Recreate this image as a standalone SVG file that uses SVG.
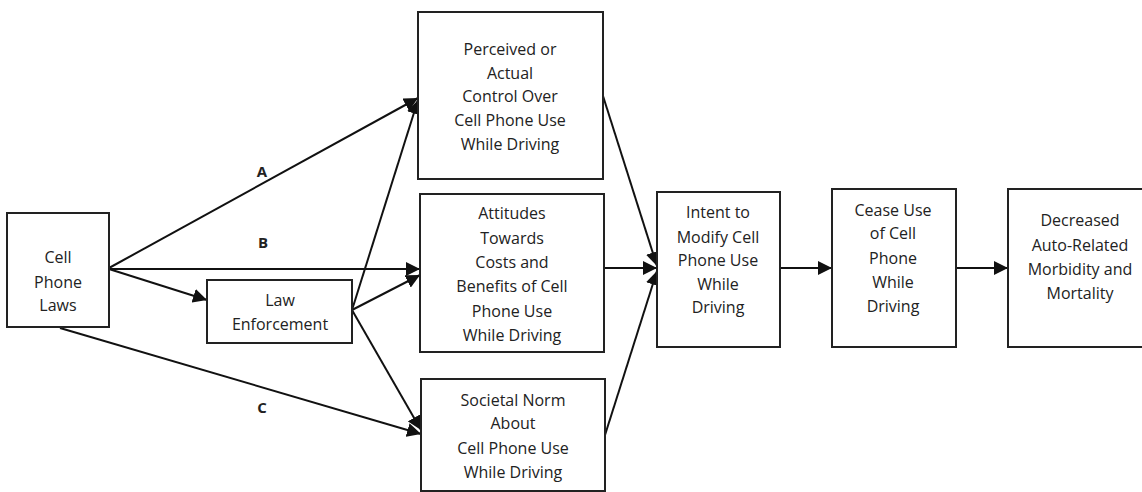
<svg xmlns="http://www.w3.org/2000/svg" width="1142" height="492" viewBox="0 0 1142 492">
  <style>
    .box { fill: #ffffff; stroke: #222222; stroke-width: 2; }
    .lbl { font-family: "Open Sans", "Liberation Sans", sans-serif; font-size: 16px; fill: #222222; text-anchor: middle; }
    .tag { font-family: "Open Sans", "Liberation Sans", sans-serif; font-size: 15px; font-weight: bold; fill: #222222; text-anchor: middle; }
    .edge { fill: none; stroke: #111111; stroke-width: 2; marker-end: url(#arrow); }
  </style>
  <defs>
    <marker id="arrow" viewBox="0 0 10 10" refX="10" refY="5" markerWidth="7" markerHeight="7" markerUnits="strokeWidth" orient="auto">
      <path d="M0,0 L10,5 L0,10 z" fill="#111111"/>
    </marker>
  </defs>
  <rect width="1142" height="492" fill="#ffffff"/>

  <g id="connectors">
    <line class="edge" x1="109" y1="268" x2="418" y2="98"/>
    <line class="edge" x1="109" y1="269" x2="420" y2="269"/>
    <line class="edge" x1="109" y1="269" x2="207" y2="300"/>
    <line class="edge" x1="60" y1="328" x2="421" y2="434"/>
    <line class="edge" x1="352" y1="310" x2="418" y2="100"/>
    <line class="edge" x1="352" y1="310" x2="420" y2="275"/>
    <line class="edge" x1="352" y1="310" x2="421" y2="430"/>
    <line class="edge" x1="603" y1="96" x2="657" y2="266"/>
    <line class="edge" x1="604" y1="268" x2="657" y2="268"/>
    <line class="edge" x1="605" y1="435" x2="657" y2="271"/>
    <line class="edge" x1="780" y1="268" x2="832" y2="268"/>
    <line class="edge" x1="956" y1="268" x2="1008" y2="268"/>
    <text class="tag" x="262" y="177">A</text>
    <text class="tag" x="263" y="248">B</text>
    <text class="tag" x="262" y="413">C</text>
  </g>

  <g id="cell-phone-laws">
    <rect class="box" x="7" y="213" width="102" height="114"/>
    <text class="lbl" x="58" y="263">Cell</text>
    <text class="lbl" x="58" y="288">Phone</text>
    <text class="lbl" x="58" y="311">Laws</text>
  </g>

  <g id="law-enforcement">
    <rect class="box" x="207" y="280" width="145" height="63"/>
    <text class="lbl" x="280" y="306">Law</text>
    <text class="lbl" x="280" y="330">Enforcement</text>
  </g>

  <g id="perceived-control">
    <rect class="box" x="418" y="12" width="185" height="167"/>
    <text class="lbl" x="510" y="55">Perceived or</text>
    <text class="lbl" x="510" y="79">Actual</text>
    <text class="lbl" x="510" y="102">Control Over</text>
    <text class="lbl" x="510" y="126">Cell Phone Use</text>
    <text class="lbl" x="510" y="150">While Driving</text>
  </g>

  <g id="attitudes">
    <rect class="box" x="420" y="194" width="184" height="158"/>
    <text class="lbl" x="512" y="219">Attitudes</text>
    <text class="lbl" x="512" y="244">Towards</text>
    <text class="lbl" x="512" y="268">Costs and</text>
    <text class="lbl" x="512" y="292">Benefits of Cell</text>
    <text class="lbl" x="512" y="317">Phone Use</text>
    <text class="lbl" x="512" y="341">While Driving</text>
  </g>

  <g id="societal-norm">
    <rect class="box" x="421" y="379" width="184" height="112"/>
    <text class="lbl" x="513" y="406">Societal Norm</text>
    <text class="lbl" x="513" y="429">About</text>
    <text class="lbl" x="513" y="454">Cell Phone Use</text>
    <text class="lbl" x="513" y="478">While Driving</text>
  </g>

  <g id="intent">
    <rect class="box" x="657" y="192" width="123" height="155"/>
    <text class="lbl" x="718" y="218">Intent to</text>
    <text class="lbl" x="718" y="243">Modify Cell</text>
    <text class="lbl" x="718" y="266">Phone Use</text>
    <text class="lbl" x="718" y="290">While</text>
    <text class="lbl" x="718" y="313">Driving</text>
  </g>

  <g id="cease-use">
    <rect class="box" x="832" y="189" width="124" height="158"/>
    <text class="lbl" x="893" y="216">Cease Use</text>
    <text class="lbl" x="893" y="239">of Cell</text>
    <text class="lbl" x="893" y="264">Phone</text>
    <text class="lbl" x="893" y="288">While</text>
    <text class="lbl" x="893" y="312">Driving</text>
  </g>

  <g id="decreased-outcomes">
    <rect class="box" x="1008" y="189" width="140" height="158"/>
    <text class="lbl" x="1080" y="226">Decreased</text>
    <text class="lbl" x="1080" y="251">Auto-Related</text>
    <text class="lbl" x="1080" y="275">Morbidity and</text>
    <text class="lbl" x="1080" y="299">Mortality</text>
  </g>
</svg>
